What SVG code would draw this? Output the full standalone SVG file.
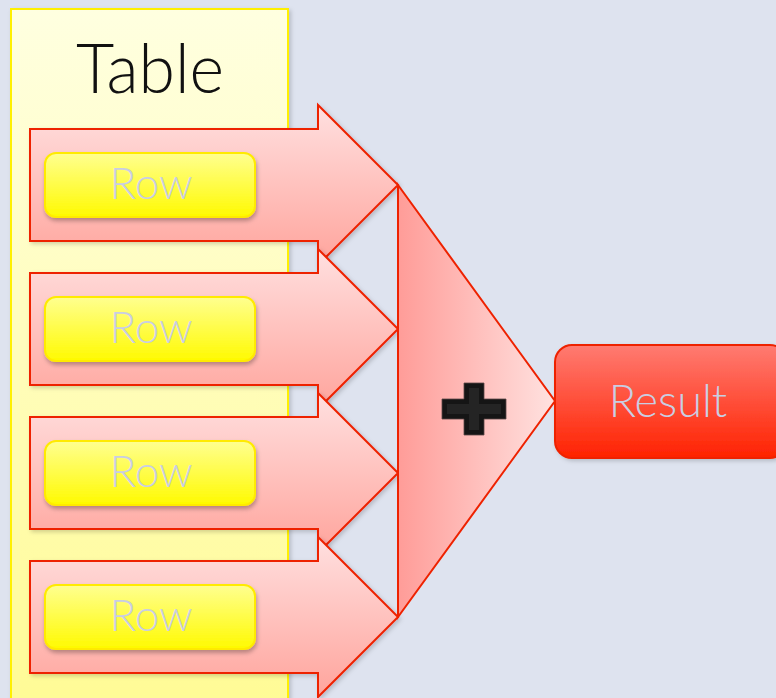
<svg xmlns="http://www.w3.org/2000/svg" width="776" height="698" viewBox="0 0 776 698">
  <defs>
    <linearGradient id="tableFill" x1="0" y1="0" x2="0" y2="1">
      <stop offset="0" stop-color="#FFFFE0"/>
      <stop offset="1" stop-color="#FFFB96"/>
    </linearGradient>
    <linearGradient id="arrowFill" x1="0" y1="0" x2="0" y2="1">
      <stop offset="0" stop-color="#FFE0E0"/>
      <stop offset="1" stop-color="#FFA49C"/>
    </linearGradient>
    <linearGradient id="rowFill" x1="0" y1="0" x2="0" y2="1">
      <stop offset="0" stop-color="#FFFF90"/>
      <stop offset="1" stop-color="#FFFA00"/>
    </linearGradient>
    <linearGradient id="sumFill" x1="0" y1="0" x2="1" y2="0">
      <stop offset="0" stop-color="#FF9C98"/>
      <stop offset="1" stop-color="#FFE2E0"/>
    </linearGradient>
    <linearGradient id="resultFill" x1="0" y1="0" x2="0" y2="1">
      <stop offset="0" stop-color="#FF7B72"/>
      <stop offset="1" stop-color="#FF2200"/>
    </linearGradient>
    <filter id="shadow" x="-10%" y="-10%" width="125%" height="130%">
      <feDropShadow dx="1" dy="3" stdDeviation="2" flood-color="#000" flood-opacity="0.28"/>
    </filter>
    <filter id="softShadow" x="-10%" y="-10%" width="125%" height="125%">
      <feDropShadow dx="2" dy="2" stdDeviation="2" flood-color="#000" flood-opacity="0.18"/>
    </filter>
  </defs>
  <style>
    .table { fill: url(#tableFill); stroke: #FFF000; stroke-width: 2; }
    .arrow { fill: url(#arrowFill); stroke: #EE2200; stroke-width: 2; stroke-linejoin: miter; }
    .row { fill: url(#rowFill); stroke: #FFEA00; stroke-width: 2; }
    .sum { fill: url(#sumFill); stroke: #EE2200; stroke-width: 2; }
    .result { fill: url(#resultFill); stroke: #EE2200; stroke-width: 2; }
    .label { font-family: Lato, "Liberation Sans", sans-serif; font-weight: 300; fill: #C9CEE2; text-anchor: middle; }
    .title { font-family: Lato, "Liberation Sans", sans-serif; font-weight: 300; fill: #111; text-anchor: middle; }
  </style>

  <rect width="776" height="698" fill="#DEE3EF"/>

  <g id="table">
    <rect class="table" x="11" y="9" width="277" height="690" filter="url(#softShadow)"/>
    <text class="title" x="150" y="93" font-size="68" textLength="148" lengthAdjust="spacingAndGlyphs">Table</text>
  </g>

  <g id="connectors">
    <path class="arrow" filter="url(#softShadow)" d="M30,129 H318 V105 L398,185 L318,265 V241 H30 Z"/>
    <path class="arrow" filter="url(#softShadow)" d="M30,273 H318 V249 L398,329 L318,409 V385 H30 Z"/>
    <path class="arrow" filter="url(#softShadow)" d="M30,417 H318 V393 L398,473 L318,553 V529 H30 Z"/>
    <path class="arrow" filter="url(#softShadow)" d="M30,561 H318 V537 L398,617 L318,697 V673 H30 Z"/>
  </g>

  <g id="row1">
    <rect class="row" x="45" y="153" width="210" height="64" rx="11" filter="url(#shadow)"/>
    <text class="label" x="151" y="199" font-size="44">Row</text>
  </g>
  <g id="row2">
    <rect class="row" x="45" y="297" width="210" height="64" rx="11" filter="url(#shadow)"/>
    <text class="label" x="151" y="343" font-size="44">Row</text>
  </g>
  <g id="row3">
    <rect class="row" x="45" y="441" width="210" height="64" rx="11" filter="url(#shadow)"/>
    <text class="label" x="151" y="487" font-size="44">Row</text>
  </g>
  <g id="row4">
    <rect class="row" x="45" y="585" width="210" height="64" rx="11" filter="url(#shadow)"/>
    <text class="label" x="151" y="631" font-size="44">Row</text>
  </g>

  <g id="sum">
    <polygon class="sum" points="398,185 398,617 555,401"/>
    <!-- plus operator: dark outer cross with a slightly lighter core -->
    <path d="M464,383 H484 V399 H506 V419 H484 V435 H464 V419 H442 V399 H464 Z" fill="#151515" stroke="#5A4848" stroke-width="0.8"/>
    <path d="M469,388 H479 V404 H501 V414 H479 V430 H469 V414 H447 V404 H469 Z" fill="#242424"/>
  </g>

  <g id="result">
    <rect class="result" x="555" y="345" width="232" height="113" rx="17" filter="url(#softShadow)"/>
    <text class="label" x="668" y="417" font-size="45">Result</text>
  </g>
</svg>
